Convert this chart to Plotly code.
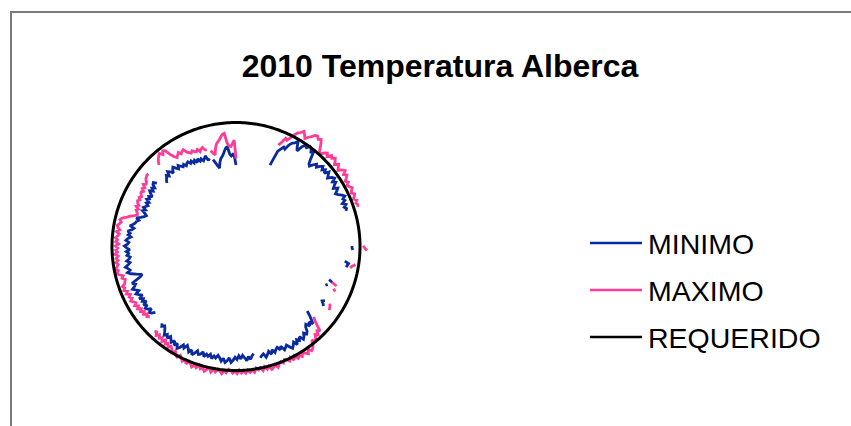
import pandas as pd
import plotly.graph_objects as go

# Días del año 2010 (categorías del gráfico radial, una por día)
DAYS = pd.date_range("2010-01-01", "2010-12-31", freq="D").strftime("%d/%m").tolist()

# Temperatura mínima diaria (°C); None = día sin lectura
MINIMO = (
    [18.4] + [None] * 22
    + [19.9, 23.5, 24.2, 24.9, 24.6, 25.9, 26.6, 26.9, 27.6, 26.4,
       25.6, 27.1, 27.7, 27.4, 28.1, 27.9, 27.2, 27.5, 26.0, 24.9,
       24.6, 25.4, 26.0, 25.5, 26.2, 26.7, 26.0, 26.6, 25.9, 26.9,
       26.3, 25.8, 26.7, 27.1, 26.2, 26.8, 26.1, 25.6, 26.5, 26.0,
       25.4, 25.9, 26.6, 27.1, 26.4, 26.7, 25.9, 26.6, 26.0, 26.4, 26.1]
    + [None] * 17
    + [26.2, 26.2, 26.4]
    + [None] * 5
    + [24.8, 25.7, 25.5, 25.3]
    + [None] * 8
    + [22.3, 23.2, None, 22.4, 22.0]
    + [None] * 7
    + [23.5, 23.0, 23.5, 23.9]
    + [None] * 7
    + [21.7, 22.8, 23.7, 24.6, 23.7, 24.5, 23.6, 24.0, 25.0, 25.4,
       24.8, 25.5, 25.9, 24.9, 25.6, 25.1, 26.1, 25.2, 25.8, 26.3,
       25.7, 25.0, 25.4, 25.8, 24.7, 25.4, 24.6, 24.9, 25.5, 24.7,
       25.6, 24.8, 25.4, 25.9, 25.0, 25.3, 25.7]
    + [None, None]
    + [24.5, 24.9, 25.7, 25.0, 25.9, 25.2, 24.6, 25.4, 24.7, 25.5,
       25.0, 25.7, 26.2, 25.2, 25.9, 26.3, 25.4, 26.1, 25.4, 24.9,
       25.6, 25.2, 25.9, 25.0, 25.6, 25.2, 25.9, 24.9, 25.6, 25.8,
       25.1, 25.8, 26.4, 25.4, 26.1, 25.4, 24.9, 25.8, 25.2, 26.1,
       26.6, 25.6, 26.3, 25.4, 26.1, 25.6, 25.1, 25.8, 25.2, 25.8,
       25.1, 24.5, 24.1, 24.6, 24.1]
    + [None] * 6
    + [23.5, 24.3, 24.6, 23.7, 24.5, 24.8, 24.0, 24.7, 23.7, 24.5,
       24.0, 24.8, 23.8, 24.5, 25.0, 24.1, 24.7, 25.3, 24.6, 24.2,
       24.9, 23.7, 22.6, 22.1, 23.3, 24.5, 25.2, 24.5, 24.9, 25.4,
       24.7, 24.2, 24.9, 24.3, 24.0, 24.7, 24.3, 24.8, 24.0, 24.7,
       25.2, 24.5, 24.2, 24.9, 24.5, 23.8, 24.5, 24.1, 24.7, 23.8,
       23.4, 24.4, 23.8, 23.4, 23.2, 22.7, 23.4, 22.5, 21.8, 21.4,
       21.9, 22.6, 22.0, 22.7, 22.3, 21.9, 22.5, 22.0, 22.8, 22.3,
       22.7, 22.0, 22.7, 23.2, 22.5, 23.1, 22.6, 23.4, 23.6, 22.9]
    + [None] * 3
    + [21.2, 21.7, 22.0, 22.5, 22.0, 22.9, 22.5, 21.8, 22.5, 22.9,
       22.3, 21.8, 22.5, 22.0, 21.6, 22.0, 21.4, 21.8, 22.0, 21.4,
       21.8, 21.1, 21.6, 20.9, 21.6, 20.9, 21.3, 20.7, 21.1, 21.6,
       20.4, 20.8]
    + [None]
    + [20.3, 19.5, 18.7, 18.1, 19.3, 20.1, 20.5, 21.0, 21.7, 22.4,
       22.6, 21.0, 20.5, 20.8, 20.3]
)

# Temperatura máxima diaria (°C); None = día sin lectura
MAXIMO = (
    [19.9] + [None] * 22
    + [24.8, 25.7, 26.9, 26.6, 27.5, 28.5, 29.2, 29.6, 30.2, 29.6,
       28.9, 29.6, 30.1, 30.8, 31.0, 30.5, 30.9, 30.2, 29.3, 28.5,
       28.3, 29.1, 29.5, 28.9, 29.8, 29.4, 30.0, 29.5, 28.9, 29.7,
       29.2, 28.7, 29.6, 30.0, 29.2, 29.8, 29.3, 28.7, 29.2, 28.6,
       28.9, 29.4, 29.0, 28.7, 29.3, 29.0, 28.6, 29.2, 28.8, 29.1, 28.9]
    + [None] * 17
    + [28.7, 29.1, 29.6]
    + [None] * 6
    + [27.3, 26.6, 26.2]
    + [None] * 9
    + [23.1, 24.4, None, 24.0, 24.6]
    + [None] * 6
    + [24.8, 25.1, 25.3, 25.5]
    + [None] * 7
    + [23.7, 24.4, 25.5, 26.9, 26.4, 27.2, 26.7, 27.5, 27.9, 27.2,
       28.3, 28.8, 29.1, 28.3, 29.2, 28.7, 28.3, 29.0, 28.4, 28.9,
       28.0, 28.8, 27.9, 28.6, 28.1, 27.8, 28.4, 27.9, 28.3, 28.9,
       28.1, 28.6, 28.9, 28.0, 28.6, 27.9, 28.7, 27.9, 28.3, 27.8,
       28.7, 28.1, 28.6, 28.0, 28.7, 28.1, 28.6, 27.9, 28.7, 28.1,
       28.6, 28.0, 27.8, 28.6, 28.1, 28.9, 28.4, 28.0, 28.7, 28.1,
       28.9, 28.1, 28.5, 29.1, 28.4, 28.8, 28.0, 28.8, 28.3, 29.0,
       28.4, 28.0, 28.8, 27.8, 28.6, 28.0, 27.6, 28.3, 27.8, 27.3,
       28.0, 27.3, 26.9, 27.5, 26.7, 27.2, 26.4, 27.2, 26.5, 27.0,
       26.4, 27.0, 26.3, 26.6]
    + [None] * 6
    + [25.1, 25.6, 25.2, 25.9, 25.4, 26.1, 25.6, 26.3, 25.8, 26.5,
       25.9, 26.3, 26.8, 26.2, 26.7, 26.2, 27.0, 26.5, 27.2, 26.8,
       27.2, 26.5, 26.3, 26.1, 26.7, 26.3, 27.2, 27.6, 27.1, 27.6,
       27.2, 26.9, 27.4, 26.8, 27.2, 26.7, 27.4, 26.8, 27.2, 26.7,
       27.2, 26.5, 27.2, 26.8, 27.3, 26.8, 26.5, 27.2, 26.5, 27.0,
       27.2, 26.8, 26.5, 26.9, 26.5, 25.5, 24.8, 23.9, 23.4, 23.6,
       24.0, 23.6, 24.3, 23.8, 24.3, 24.5, 24.1, 24.5, 24.1, 24.5,
       24.7, 24.3, 24.9, 24.5, 25.2, 24.7, 24.9, 25.4, 25.6, 25.8,
       25.7]
    + [None] * 6
    + [25.3, 26.0, 26.5, 26.9, 27.2, 26.5, 27.2, 26.9, 25.5, 24.6,
       24.1, 24.5, 24.9, 24.3, 24.7, 24.9, 24.1, 23.7, 23.4, 23.8,
       23.4, 23.2, 23.6, 22.9, 23.4, 23.6, 22.9, 22.8]
    + [None]
    + [22.4, 21.7, 21.2, 22.6, 23.5, 24.0, 24.4, 25.0, 25.5, 25.7,
       23.5, 22.8, 22.6, 23.3, 24.0]
)

# Temperatura requerida (constante)
REQUERIDO = [28.0] * len(DAYS)

SERIES = ["MINIMO", "MAXIMO", "REQUERIDO"]
VALUES = [MINIMO, MAXIMO, REQUERIDO]
COLORS = ["#0a2aa0", "#ff3c96", "#000000"]
WIDTHS = [2.8, 2.8, 3]

assert all(len(v) == len(DAYS) for v in VALUES)

FONT = "Liberation Sans, Arial, sans-serif"
W, H = 851, 426

fig = go.Figure()
for name, vals, color, width in zip(SERIES, VALUES, COLORS, WIDTHS):
    # el radar cierra el trazo uniendo el último día con el primero
    fig.add_trace(go.Scatterpolar(
        r=vals + vals[:1],
        theta=DAYS + DAYS[:1],
        mode="lines",
        name=name,
        line=dict(color=color, width=width),
        connectgaps=False,
        showlegend=False,
        hoverinfo="skip",
    ))

fig.update_layout(
    width=W, height=H,
    margin=dict(l=0, r=0, t=0, b=0),
    paper_bgcolor="white",
    plot_bgcolor="white",
    font=dict(family=FONT, color="black"),
    title=dict(
        text="<b>2010 Temperatura Alberca</b>",
        x=440 / W, y=1 - 66 / H, xanchor="center", yanchor="middle",
        font=dict(family=FONT, size=32, color="black"),
    ),
    polar=dict(
        domain=dict(x=[81 / W, 391 / W], y=[1 - 401.5 / H, 1 - 91.5 / H]),
        bgcolor="white",
        radialaxis=dict(range=[0, 35], visible=False, showgrid=False),
        angularaxis=dict(type="category", rotation=90, direction="clockwise",
                         visible=False, showgrid=False),
    ),
)

# Marco del área del gráfico
fig.add_shape(type="rect", xref="paper", yref="paper",
              x0=11 / W, x1=1.05, y0=-0.05, y1=1 - 12 / H,
              line=dict(color="#7a7a7a", width=2), fillcolor="rgba(0,0,0,0)",
              layer="below")

# Leyenda a la derecha
legend_y = [243, 290, 337]
for name, color, ly in zip(SERIES, COLORS, legend_y):
    fig.add_shape(type="line", xref="paper", yref="paper",
                  x0=590 / W, x1=642 / W, y0=1 - ly / H, y1=1 - ly / H,
                  line=dict(color=color, width=2.5))
    fig.add_annotation(text=name, xref="paper", yref="paper",
                       x=646 / W, y=1 - (ly + 1) / H, xanchor="left", yanchor="middle",
                       showarrow=False, font=dict(family=FONT, size=28.5, color="black"))

fig.write_html("out.html")
